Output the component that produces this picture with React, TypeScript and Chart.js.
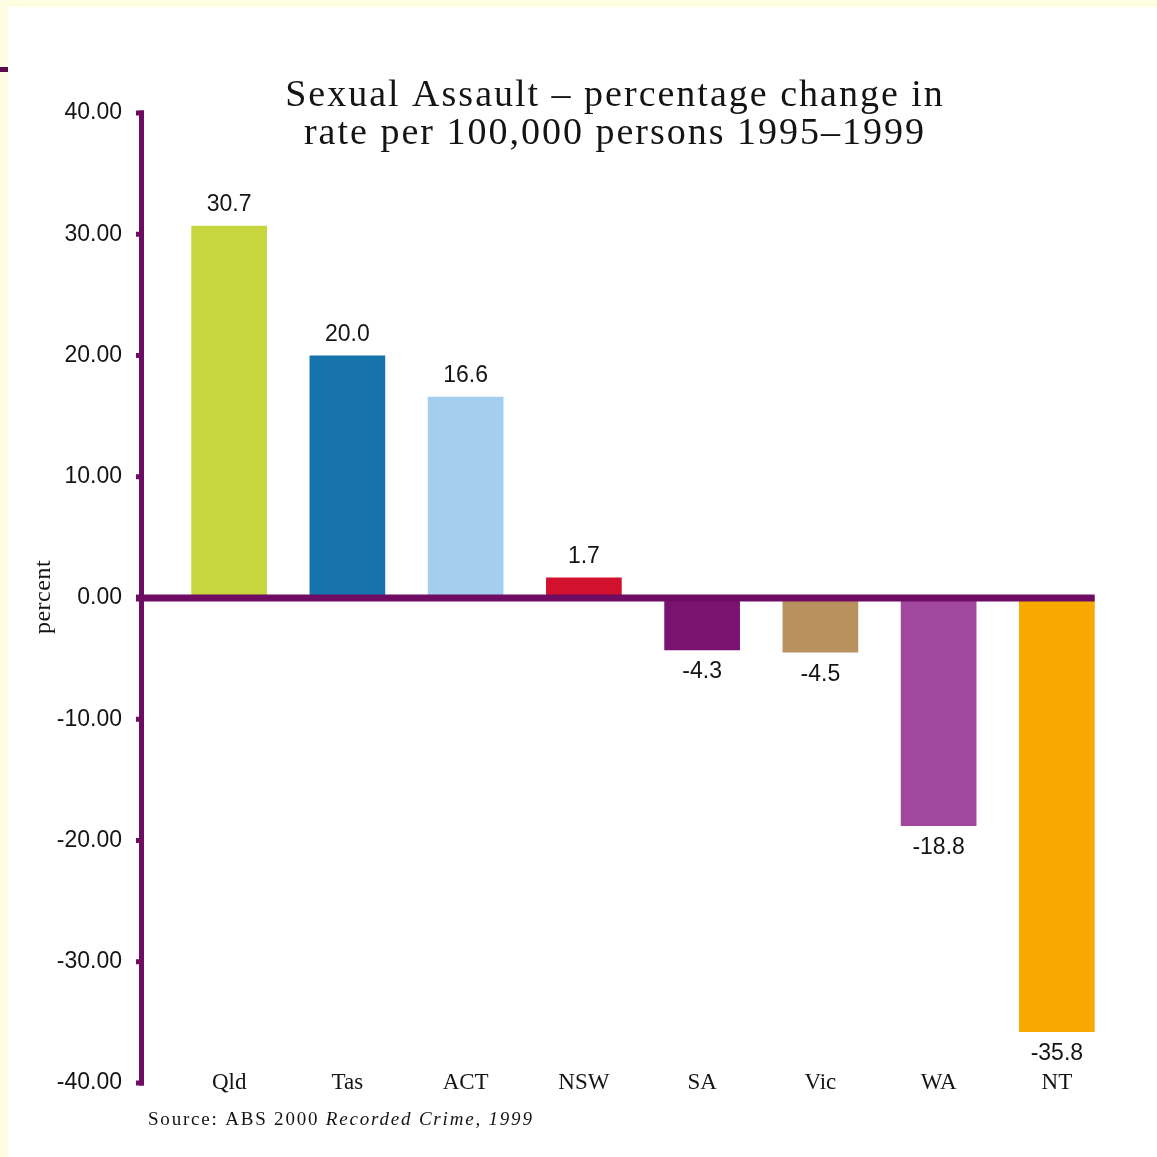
import React, { useEffect, useRef } from 'react';
import { Chart, registerables } from 'chart.js';

Chart.register(...registerables);

// Percentage change in sexual assault rate per 100,000 persons, 1995–1999
const states = ['Qld', 'Tas', 'ACT', 'NSW', 'SA', 'Vic', 'WA', 'NT'];
const changePct = [30.7, 20.0, 16.6, 1.7, -4.3, -4.5, -18.8, -35.8];
const barColours = ['#c7d63e', '#1673ab', '#a4cdee', '#d1112e', '#7a1271', '#b8915d', '#a1489d', '#f8a900'];
const yTickValues = [40, 30, 20, 10, 0, -10, -20, -30, -40];

const titleLines = ['Sexual Assault – percentage change in', 'rate per 100,000 persons 1995–1999'];
const yAxisTitle = 'percent';
const sourcePlain = 'Source: ABS 2000 ';
const sourceItalic = 'Recorded Crime, 1999';

const AXIS = '#6e0c64';
const INK = '#141414';
const W = 1157;
const H = 1157;

const framePlugin = {
  id: 'frame',
  beforeDraw(chart: any) {
    const ctx = chart.ctx;
    ctx.save();
    ctx.fillStyle = '#fdfde2';
    ctx.fillRect(0, 0, W, H);
    ctx.fillStyle = '#ffffff';
    ctx.fillRect(8, 7, W - 8, H - 7);
    ctx.fillStyle = '#5c0a50';
    ctx.fillRect(0, 67, 8, 5);
    ctx.restore();
  },
};

const axesAndLabelsPlugin = {
  id: 'axesAndLabels',
  afterDatasetsDraw(chart: any) {
    const ctx = chart.ctx;
    const x = chart.scales.x;
    const y = chart.scales.y;
    const bars = chart.getDatasetMeta(0).data;
    const axisX = 139;
    const yTop = y.getPixelForValue(yTickValues[0]);
    const yBot = y.getPixelForValue(yTickValues[yTickValues.length - 1]);
    const zeroY = y.getPixelForValue(0);

    ctx.save();
    ctx.fillStyle = AXIS;
    // vertical axis with tick marks
    ctx.fillRect(axisX, yTop - 2.5, 5, yBot - yTop + 5);
    yTickValues.forEach((v) => {
      const py = y.getPixelForValue(v);
      ctx.fillRect(axisX - 3, py - 2.5, 8, 5);
    });
    // zero line across to the end of the last bar
    const last = bars[bars.length - 1];
    const endX = last.x + last.width / 2;
    ctx.fillRect(axisX - 3, zeroY - 3.5, endX - (axisX - 3), 7);

    // value labels
    ctx.fillStyle = INK;
    ctx.font = '23px "Liberation Sans"';
    ctx.textAlign = 'center';
    ctx.textBaseline = 'middle';
    bars.forEach((bar: any, i: number) => {
      const v = changePct[i];
      const ly = v >= 0 ? bar.y - 21 : bar.y + 22;
      ctx.fillText(v.toFixed(1), bar.x, ly);
    });

    // category labels along the bottom
    ctx.font = '23px "Liberation Serif"';
    ctx.textBaseline = 'alphabetic';
    states.forEach((s, i) => {
      ctx.fillText(s, x.getPixelForValue(i), 1089);
    });

    // title
    ctx.font = '38px "Liberation Serif"';
    (ctx as any).letterSpacing = '2px';
    ctx.fillText(titleLines[0], 615, 106);
    ctx.fillText(titleLines[1], 615, 144);

    // y axis title
    ctx.save();
    ctx.translate(44, 597);
    ctx.rotate(-Math.PI / 2);
    ctx.font = '24px "Liberation Serif"';
    (ctx as any).letterSpacing = '0.5px';
    ctx.textBaseline = 'middle';
    ctx.fillText(yAxisTitle, 0, 0);
    ctx.restore();

    // source note
    ctx.textAlign = 'left';
    ctx.textBaseline = 'alphabetic';
    (ctx as any).letterSpacing = '1.8px';
    ctx.font = '19px "Liberation Serif"';
    ctx.fillText(sourcePlain, 148, 1125);
    const w = ctx.measureText(sourcePlain).width;
    ctx.font = 'italic 19px "Liberation Serif"';
    ctx.fillText(sourceItalic, 148 + w, 1125);
    (ctx as any).letterSpacing = '0px';
    ctx.restore();
  },
};

export default function App() {
  const canvasRef = useRef<HTMLCanvasElement | null>(null);

  useEffect(() => {
    const canvas = canvasRef.current;
    if (!canvas) return;
    const chart = new Chart(canvas, {
      type: 'bar',
      data: {
        labels: states,
        datasets: [
          {
            data: changePct,
            backgroundColor: barColours,
            borderWidth: 0,
            barPercentage: 0.64,
            categoryPercentage: 1,
          },
        ],
      },
      options: {
        responsive: false,
        animation: false,
        devicePixelRatio: 1,
        layout: { padding: { left: 0, right: 41, top: 113, bottom: 0 } },
        plugins: {
          legend: { display: false },
          tooltip: { enabled: false },
          title: { display: false },
        },
        scales: {
          x: {
            offset: true,
            grid: { display: false, drawTicks: false },
            border: { display: false },
            ticks: { display: false },
            afterFit: (s: any) => {
              s.height = 74;
            },
          },
          y: {
            min: -40,
            max: 40,
            grid: { display: false, drawTicks: false },
            border: { display: false },
            afterBuildTicks: (s: any) => {
              s.ticks = yTickValues.map((v) => ({ value: v }));
            },
            ticks: {
              color: INK,
              font: { family: '"Liberation Sans"', size: 23 },
              padding: 48,
              callback: (v: any) => Number(v).toFixed(2),
            },
            afterFit: (s: any) => {
              s.width = 170;
            },
          },
        },
      },
      plugins: [framePlugin, axesAndLabelsPlugin],
    });
    return () => chart.destroy();
  }, []);

  return (
    <canvas
      ref={canvasRef}
      width={W}
      height={H}
      style={{ position: 'fixed', left: 0, top: 0, width: W, height: H }}
    />
  );
}
